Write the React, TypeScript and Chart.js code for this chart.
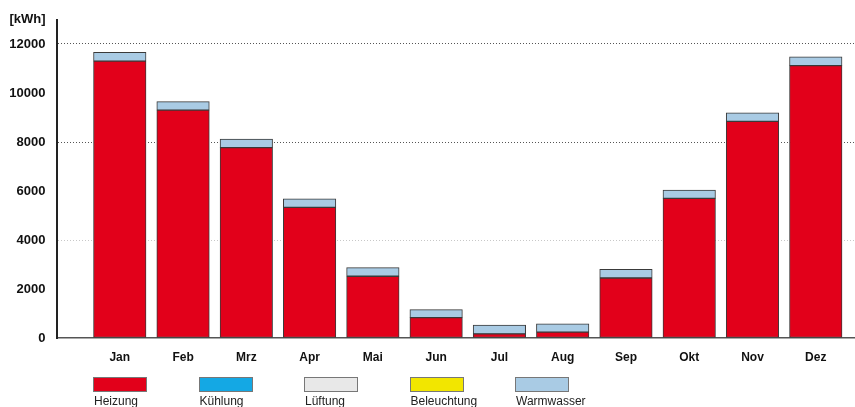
import React, { useEffect, useRef } from "react";
import { Chart, registerables } from "chart.js";

Chart.register(...registerables);

// ---- data ----
const months = ["Jan", "Feb", "Mrz", "Apr", "Mai", "Jun", "Jul", "Aug", "Sep", "Okt", "Nov", "Dez"];
const heizung = [11300, 9300, 7770, 5330, 2520, 830, 170, 240, 2450, 5700, 8840, 11120];
const kuehlung = [0, 0, 0, 0, 0, 0, 0, 0, 0, 0, 0, 0];
const lueftung = [0, 0, 0, 0, 0, 0, 0, 0, 0, 0, 0, 0];
const beleuchtung = [0, 0, 0, 0, 0, 0, 0, 0, 0, 0, 0, 0];
const warmwasser = [360, 350, 350, 350, 350, 330, 360, 340, 350, 340, 350, 360];
const seriesNames = ["Heizung", "Kühlung", "Lüftung", "Beleuchtung", "Warmwasser"];
const seriesColors = ["#E2001A", "#14A8E4", "#E8E8E8", "#F2E600", "#A9CBE4"];
const yTickValues = [0, 2000, 4000, 6000, 8000, 10000, 12000, 13000];
const yUnitLabel = "[kWh]";

const FONT = "'Liberation Sans', Arial, Helvetica, sans-serif";

export default function App() {
  const canvasRef = useRef<HTMLCanvasElement | null>(null);

  useEffect(() => {
    const canvas = canvasRef.current;
    if (!canvas) return;
    const seriesData = [heizung, kuehlung, lueftung, beleuchtung, warmwasser];
    const chart = new Chart(canvas, {
      type: "bar",
      data: {
        datasets: seriesData.map((vals, si) => ({
          label: seriesNames[si],
          data: vals.map((y, i) => ({ x: i + 1, y })),
          backgroundColor: seriesColors[si],
          borderColor: "#3a3a3a",
          borderWidth: 1,
          borderSkipped: false,
          barThickness: 52.5,
        })),
      },
      options: {
        responsive: false,
        animation: false,
        layout: { padding: { top: 19.5, left: 0, right: 0, bottom: 0 } },
        plugins: { legend: { display: false }, tooltip: { enabled: false } },
        scales: {
          x: {
            type: "linear",
            stacked: true,
            offset: false,
            min: 0,
            max: 12.62,
            afterBuildTicks: (s: any) => {
              s.ticks = months.map((_, i) => ({ value: i + 1 }));
            },
            afterFit: (s: any) => {
              s.height = 69;
            },
            grid: { display: false, drawTicks: false },
            border: { display: true, color: "#555", width: 1.5 },
            ticks: {
              autoSkip: false,
              maxRotation: 0,
              padding: 12,
              color: "#111",
              font: { family: FONT, size: 12, weight: "bold" },
              callback: (v: any) => months[Math.round(Number(v)) - 1] ?? "",
            },
          },
          y: {
            stacked: true,
            min: 0,
            max: 13000,
            afterBuildTicks: (s: any) => {
              s.ticks = yTickValues.map((v) => ({ value: v }));
            },
            afterFit: (s: any) => {
              s.width = 56.5;
            },
            grid: {
              drawTicks: false,
              lineWidth: 1,
              color: (ctx: any) => {
                const v = ctx.tick && ctx.tick.value;
                if (v === 12000 || v === 8000) return "#555";
                if (v === 4000) return "#c8c8c8";
                return "rgba(0,0,0,0)";
              },
            },
            border: { display: true, color: "#222", width: 2, dash: [1, 2] },
            ticks: {
              autoSkip: false,
              padding: 11,
              color: "#111",
              font: { family: FONT, size: 13, weight: "bold" },
              callback: (v: any) => (Number(v) === 13000 ? yUnitLabel : String(v)),
            },
          },
        },
      },
    });
    return () => chart.destroy();
  }, []);

  return (
    <div
      style={{
        position: "absolute",
        left: 0,
        top: 0,
        width: 855,
        height: 407,
        overflow: "hidden",
        background: "#fff",
      }}
    >
      <canvas ref={canvasRef} width={855} height={407} style={{ display: "block" }} />
      {seriesNames.map((name, i) => (
        <div key={name}>
          <div
            style={{
              position: "absolute",
              left: 93 + i * 105.5,
              top: 376.5,
              width: 52,
              height: 13,
              background: seriesColors[i],
              border: "1px solid #777",
            }}
          />
          <div
            style={{
              position: "absolute",
              left: 94 + i * 105.5,
              top: 394,
              fontFamily: FONT,
              fontSize: 12,
              lineHeight: "14px",
              color: "#222",
              whiteSpace: "nowrap",
            }}
          >
            {name}
          </div>
        </div>
      ))}
    </div>
  );
}
